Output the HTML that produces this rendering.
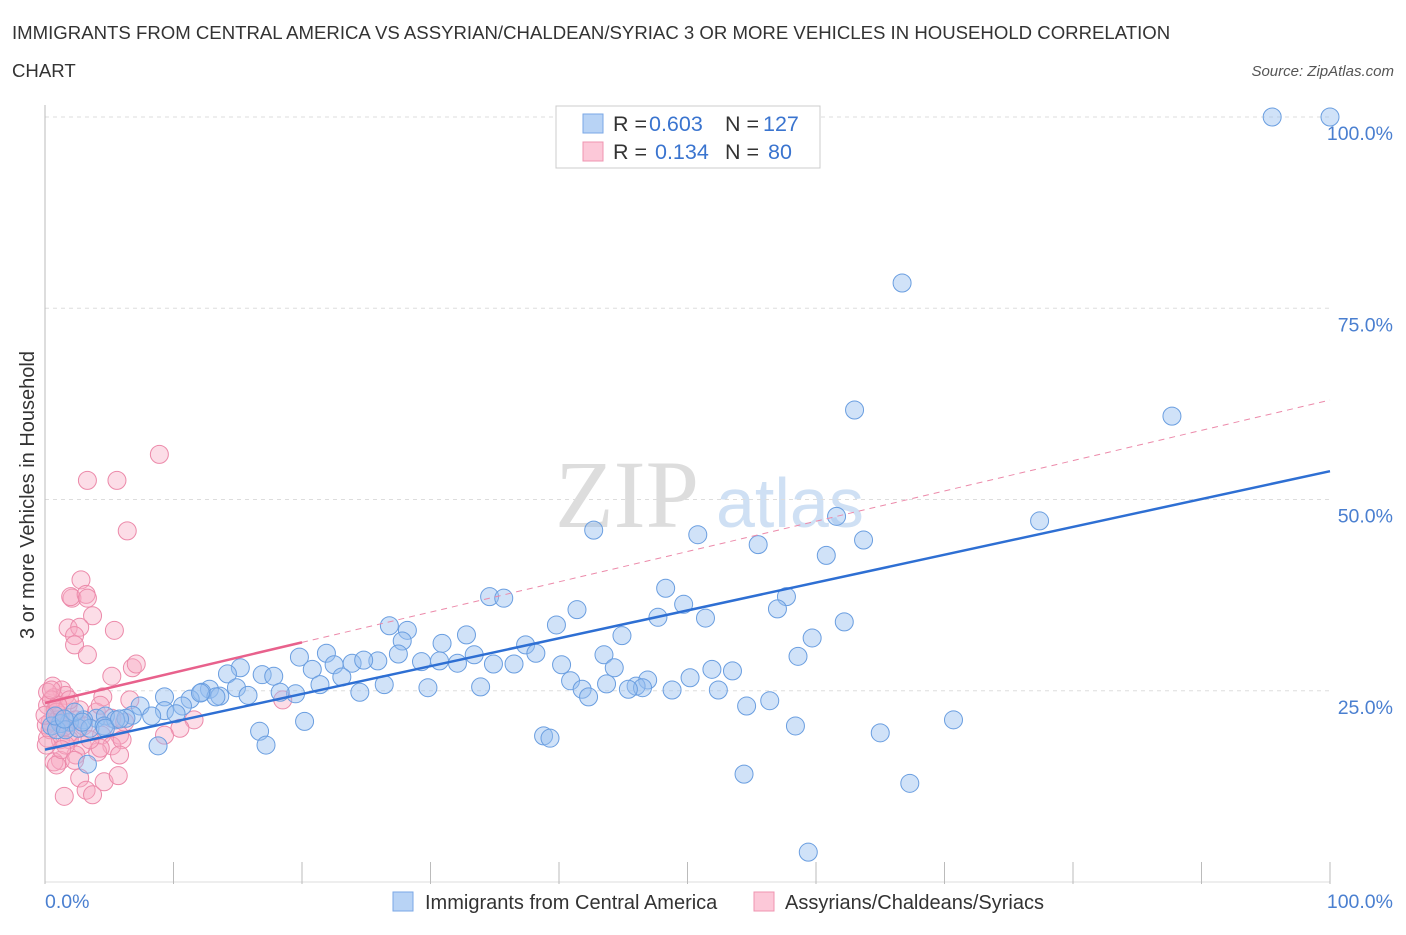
<!DOCTYPE html>
<html><head><meta charset="utf-8"><style>
body{margin:0;background:#fff;font-family:"Liberation Sans",sans-serif;}
</style></head><body>
<svg id="chart" width="1406" height="930" xmlns="http://www.w3.org/2000/svg" font-family="Liberation Sans, sans-serif">
<text x="12" y="39" font-size="18.6" fill="#333">IMMIGRANTS FROM CENTRAL AMERICA VS ASSYRIAN/CHALDEAN/SYRIAC 3 OR MORE VEHICLES IN HOUSEHOLD CORRELATION</text>
<text x="12" y="77" font-size="18.6" fill="#333">CHART</text>
<text x="1394" y="76" font-size="15" fill="#555" font-style="italic" text-anchor="end">Source: ZipAtlas.com</text>
<text x="555" y="527" font-size="96" fill="#ddd" font-family="Liberation Serif, serif">ZIP</text>
<text x="716" y="527" font-size="70" fill="#cfe0f4">atlas</text>
<g id="grid"></g>
<g id="marks"></g>
<text transform="translate(34,495) rotate(-90)" font-size="20" fill="#333" text-anchor="middle">3 or more Vehicles in Household</text>
<text x="45" y="908" font-size="19.5" fill="#4a7fd0">0.0%</text>
<text x="1393" y="908" font-size="19.5" fill="#4a7fd0" text-anchor="end">100.0%</text>
<g>
<rect x="556" y="106" width="264" height="62" fill="#fff" stroke="#ccc"/>
<rect x="583" y="114" width="20" height="19" fill="#b8d3f5" stroke="#7aa7e6"/>
<rect x="583" y="142" width="20" height="19" fill="#fcc8d8" stroke="#ef94b0"/>
<text x="613" y="131" font-size="21.5" fill="#333">R = <tspan x="649" fill="#3a74cf">0.603</tspan><tspan x="725">N = </tspan><tspan x="763" fill="#3a74cf">127</tspan></text>
<text x="613" y="159" font-size="21.5" fill="#333">R = <tspan x="655" fill="#3a74cf">0.134</tspan><tspan x="725">N = </tspan><tspan x="768" fill="#3a74cf">80</tspan></text>
</g>
<g>
<rect x="393" y="892" width="20" height="19" fill="#b8d3f5" stroke="#7aa7e6"/>
<text x="425" y="909" font-size="20" fill="#333">Immigrants from Central America</text>
<rect x="754" y="892" width="20" height="19" fill="#fcc8d8" stroke="#ef94b0"/>
<text x="785" y="909" font-size="20" fill="#333">Assyrians/Chaldeans/Syriacs</text>
</g>
</svg>
<script>
const blueX=[95.5,100,66.7,63.0,87.7,77.4,61.6,42.7,50.8,55.5,63.7,60.8,48.3,34.6,35.7,57.7,49.7,41.4,57.0,51.4,47.7,62.2,39.8,26.8,28.2,59.7,44.9,32.8,27.8,30.9,37.4,19.8,21.9,27.5,33.4,43.5,30.7,25.9,29.3,23.9,22.5,24.8,36.5,34.9,32.1,20.8,38.2,40.2,58.6,51.9,53.5,44.3,50.2,15.2,14.2,16.9,17.8,23.1,26.4,21.4,40.9,46.9,46.0,43.7,46.5,45.4,48.8,52.4,41.8,42.3,33.9,29.8,24.5,19.5,18.3,12.8,12.2,13.6,14.9,15.8,11.3,9.3,7.4,10.7,13.3,56.4,54.6,9.3,10.2,6.8,8.3,6.3,4.0,4.7,5.5,3.0,1.9,1.2,0.5,0.9,1.6,2.6,3.5,4.6,16.7,20.2,70.7,58.4,65.0,38.8,39.3,8.8,17.2,3.3,54.4,67.3,59.4,2.3,4.7,0.8,1.5,2.9,5.8,12.1];
const blueY=[100,100,78.3,61.7,60.9,47.2,47.8,46.0,45.4,44.1,44.7,42.7,38.4,37.3,37.1,37.3,36.3,35.6,35.7,34.5,34.6,34.0,33.6,33.5,32.9,31.9,32.2,32.3,31.5,31.2,31.0,29.4,29.9,29.8,29.7,29.7,28.9,28.9,28.8,28.6,28.4,29.0,28.5,28.5,28.6,27.8,29.9,28.4,29.5,27.8,27.6,28.0,26.7,28.0,27.2,27.1,26.9,26.8,25.8,25.8,26.3,26.4,25.6,25.9,25.4,25.2,25.1,25.1,25.2,24.2,25.5,25.4,24.8,24.6,24.8,25.2,24.8,24.3,25.4,24.4,23.9,24.2,23.0,23.0,24.2,23.7,23.0,22.4,22.0,21.8,21.7,21.4,21.4,21.7,21.2,21.2,20.9,20.7,20.4,19.9,19.9,20.1,20.1,20.4,19.7,21.0,21.2,20.4,19.5,19.1,18.8,17.8,17.9,15.4,14.1,12.9,3.9,22.2,20.1,21.7,21.3,20.9,21.3,24.7];
const pinkX=[8.9,3.3,5.6,6.4,2.8,2.1,2.0,3.2,3.3,3.7,1.8,2.7,2.3,2.3,5.4,3.3,6.8,7.1,5.2,0.6,1.3,0.7,0.2,1.6,4.5,18.5,0.2,0.8,1.2,1.8,2.7,4.0,5.2,6.2,0.4,1.3,2.1,4.4,5.8,11.6,10.5,9.3,0.2,1.2,1.9,2.9,5.2,6.0,1.2,0.7,2.4,4.1,5.8,0.9,4.6,5.7,2.7,3.2,1.5,3.7,4.3,0.1,0.4,0.5,0.9,1.0,1.5,1.6,2.4,3.0,3.5,6.6,1.9,1.0,1.3,2.3,4.3,0.0,0.1,0.5];
const pinkY=[55.9,52.5,52.5,45.9,39.5,37.1,37.3,37.6,37.1,34.8,33.2,33.3,32.2,31.0,32.9,29.7,28.0,28.5,26.9,25.6,25.1,24.1,24.8,24.4,24.2,23.8,23.1,22.5,21.8,23.1,22.5,22.2,21.4,20.9,20.9,20.7,19.6,19.2,19.2,21.2,20.1,19.2,18.8,18.6,18.6,17.9,17.8,18.6,15.9,15.7,16.6,17.0,16.6,15.3,13.1,13.9,13.6,12.0,11.2,11.4,17.5,20.5,19.9,23.8,22.2,21.2,20.3,17.9,21.2,20.4,18.6,23.8,23.8,23.1,17.3,15.9,23.1,21.8,17.9,25.1];
const blueTrend=[17.3,53.7];   // y at x=0 and x=100
const pinkTrend=[23.4,63.0];
const yTicks=[25,50,75,100];
const yTickLabels=["25.0%","50.0%","75.0%","100.0%"];
const xTicks=[0,10,20,30,40,50,60,70,80,90,100];

const NS="http://www.w3.org/2000/svg";
const sx=v=>45+v*12.85, sy=v=>882-v*7.65;
function mk(tag,at,parent){const e=document.createElementNS(NS,tag);for(const k in at)e.setAttribute(k,at[k]);parent.appendChild(e);return e;}
const grid=document.getElementById('grid'),marks=document.getElementById('marks');
yTicks.forEach((t,i)=>{
  const l=mk('line',{x1:45,x2:1330,y1:sy(t),y2:sy(t),stroke:'#ddd','stroke-dasharray':'4,4'},grid);
  
  
  const tx=mk('text',{x:1393,y:sy(t)+23,'font-size':19.5,fill:'#4a7fd0','text-anchor':'end'},grid);
  tx.textContent=yTickLabels[i];
  
  
});
const ax=mk('line',{x1:45,x2:45,y1:105,y2:882,stroke:'#bbb'},grid);


const bx=mk('line',{x1:45,x2:1330,y1:882,y2:882,stroke:'#ddd'},grid);


xTicks.forEach(t=>{
  const l=mk('line',{x1:sx(t),x2:sx(t),y1:862,y2:884,stroke:'#bbb'},grid);
  
  
});
pinkX.forEach((x,i)=>{
  const c=mk('circle',{cx:sx(x),cy:sy(pinkY[i]),r:9,fill:'rgba(248,170,195,0.4)',stroke:'#ec8aaa','stroke-width':1},marks);
  
  
});
blueX.forEach((x,i)=>{
  const c=mk('circle',{cx:sx(x),cy:sy(blueY[i]),r:9,fill:'rgba(150,190,240,0.45)',stroke:'#6a9ee0','stroke-width':1},marks);
  
  
});
const pd=mk('line',{x1:sx(20),y1:sy(pinkTrend[0]+(pinkTrend[1]-pinkTrend[0])*0.2),x2:sx(100),y2:sy(pinkTrend[1]),stroke:'#ec8aaa','stroke-dasharray':'6,5','stroke-width':1},marks);


const ps=mk('line',{x1:sx(0),y1:sy(pinkTrend[0]),x2:sx(20),y2:sy(pinkTrend[0]+(pinkTrend[1]-pinkTrend[0])*0.2),stroke:'#e8618c','stroke-width':2.5},marks);


const bt=mk('line',{x1:sx(0),y1:sy(blueTrend[0]),x2:sx(100),y2:sy(blueTrend[1]),stroke:'#2e6fd3','stroke-width':2.5},marks);


</script>
</body></html>
